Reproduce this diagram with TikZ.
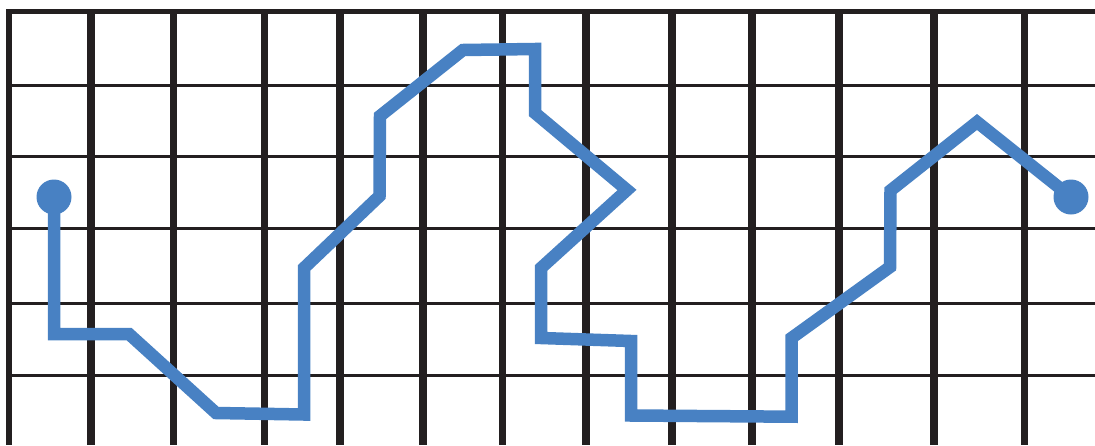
\documentclass[tikz,border=0pt]{standalone}
\begin{document}
\begin{tikzpicture}[x=1pt,y=-1pt,
  gridv/.style={draw=gridc,line width=7.5pt},
  gridh/.style={draw=gridc,line width=3pt},
  gridtop/.style={draw=gridc,line width=5pt},
  route/.style={draw=routec,line width=12.5pt,line join=miter,miter limit=10},
  enddot/.style={circle,fill=routec,minimum size=35pt,inner sep=0pt}]
\definecolor{gridc}{RGB}{35,31,32}
\definecolor{routec}{RGB}{72,129,195}
\useasboundingbox (0,0) rectangle (1095,445);
% horizontal grid lines
\foreach \yy in {85.8,156,228.3,303.8,375.3}
  \draw[gridh] (8,\yy) -- (1095,\yy);
% vertical grid lines
\draw[gridc,line width=6pt] (8.8,11.5) -- (8.8,445);
\foreach \xx in {91,173.5,264.5,340,423,502.5,586,672,752,839,934,1024.5}
  \draw[gridv] (\xx,11.5) -- (\xx,445);
% top line
\draw[gridtop] (6,11.5) -- (1095,11.5);
% route points
\coordinate (p1) at (54,197);
\coordinate (p2) at (54,334);
\coordinate (p3) at (129,334);
\coordinate (p4) at (216,413);
\coordinate (p5) at (304,414.5);
\coordinate (p6) at (304,268);
\coordinate (p7) at (379.5,196);
\coordinate (p8) at (380,116);
\coordinate (p9) at (463,50);
\coordinate (p10) at (535,49);
\coordinate (p11) at (535,113);
\coordinate (p12) at (627,190);
\coordinate (p13) at (541,268);
\coordinate (p14) at (541,338);
\coordinate (p15) at (631,341);
\coordinate (p16) at (631,415.5);
\coordinate (p17) at (791.5,416.7);
\coordinate (p18) at (791.5,338);
\coordinate (p19) at (890,267);
\coordinate (p20) at (890.5,190.5);
\coordinate (p21) at (977,122);
\coordinate (p22) at (1071,197);
\draw[route] (p1) -- (p2) -- (p3) -- (p4) -- (p5) -- (p6) -- (p7) -- (p8) -- (p9) -- (p10) -- (p11) -- (p12) -- (p13) -- (p14) -- (p15) -- (p16) -- (p17) -- (p18) -- (p19) -- (p20) -- (p21) -- (p22);
\node[enddot] (start) at (p1) {};
\node[enddot] (finish) at (p22) {};
\end{tikzpicture}
\end{document}
